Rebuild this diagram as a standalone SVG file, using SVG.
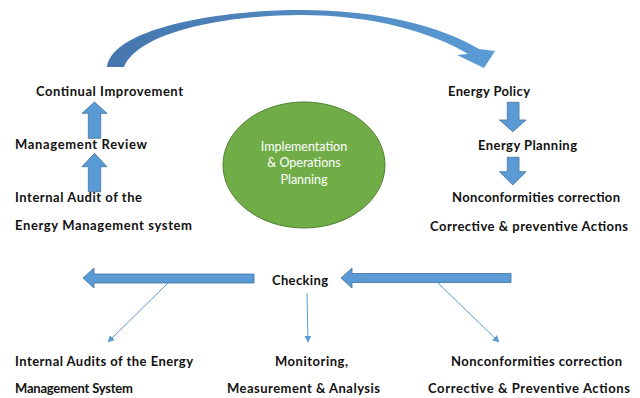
<svg xmlns="http://www.w3.org/2000/svg" width="640" height="398" viewBox="0 0 640 398">
  <style>
    .lbl { font-family: Lato, "Open Sans", "Liberation Sans", sans-serif; font-weight: bold; font-size: 13px; fill: #111; }
    .inner { font-family: Lato, "Open Sans", "Liberation Sans", sans-serif; font-size: 12.5px; fill: #ffffff; text-anchor: middle; }
    .block { fill: #5B9BD5; stroke: #41719C; stroke-width: 0.8; }
    .thin { stroke: #5B9BD5; stroke-width: 1; fill: none; marker-end: url(#tip); }
  </style>
  <defs>
    <linearGradient id="arcFill" x1="0" y1="0" x2="1" y2="0">
      <stop offset="0" stop-color="#4576AD"/>
      <stop offset="1" stop-color="#5B9BD5"/>
    </linearGradient>
    <marker id="tip" viewBox="0 0 10 10" refX="9" refY="5" markerWidth="7" markerHeight="7" orient="auto" markerUnits="userSpaceOnUse">
      <path d="M0,0 L10,5 L0,10 Z" fill="#5B9BD5"/>
    </marker>
  </defs>

  <rect width="640" height="398" fill="#ffffff"/>

  <!-- connectors -->
  <g id="connectors">
    <!-- sweeping return arrow over the top -->
    <path d="M107,67 C112,28 220,10 300,10 C380,10 443,27 479,49 L495,51 L484,68 L457,55 L468,54 C433,33 375,15 300,15 C235,15 140,29 124,67 Z" fill="url(#arcFill)"/>
    <!-- left column up arrows -->
    <path class="block" d="M94.5,102 L107,113.3 L100.7,113.3 L100.7,138.3 L88.3,138.3 L88.3,113.3 L82,113.3 Z"/>
    <path class="block" d="M94.5,153.3 L107,166.7 L100.7,166.7 L100.7,191.7 L88.3,191.7 L88.3,166.7 L82,166.7 Z"/>
    <!-- right column down arrows -->
    <path class="block" d="M507.3,102.3 L519,102.3 L519,120 L526,120 L512.8,131.7 L499.5,120 L507.3,120 Z"/>
    <path class="block" d="M507.3,157.3 L519,157.3 L519,171.7 L526,171.7 L512.8,185 L499.5,171.7 L507.3,171.7 Z"/>
    <!-- checking row arrows -->
    <path class="block" d="M83,278 L94,268 L94,274 L254,274 L254,283 L94,283 L94,288 Z"/>
    <path class="block" d="M341,278 L352,268 L352,273.5 L511,273.5 L511,282.5 L352,282.5 L352,288 Z"/>
    <!-- thin branch lines -->
    <line class="thin" x1="168" y1="283" x2="108" y2="342"/>
    <line class="thin" x1="307" y1="293" x2="308" y2="342"/>
    <line class="thin" x1="438" y1="283" x2="499" y2="342"/>
  </g>

  <g id="implementation">
    <ellipse cx="304" cy="165" rx="81" ry="63" fill="#70AD47" stroke="#507E32" stroke-width="1"/>
    <text class="inner" x="304" y="151">Implementation</text>
    <text class="inner" x="304" y="167">&amp; Operations</text>
    <text class="inner" x="304" y="184">Planning</text>
  </g>

  <g id="continual-improvement">
    <text class="lbl" x="36" y="96" textLength="147">Continual Improvement</text>
  </g>
  <g id="management-review">
    <text class="lbl" x="15" y="149" textLength="132">Management Review</text>
  </g>
  <g id="internal-audit">
    <text class="lbl" x="15" y="202" textLength="127">Internal Audit of the</text>
    <text class="lbl" x="15" y="230" textLength="177">Energy Management system</text>
  </g>

  <g id="energy-policy">
    <text class="lbl" x="448" y="96" textLength="82">Energy Policy</text>
  </g>
  <g id="energy-planning">
    <text class="lbl" x="478" y="150" textLength="99">Energy Planning</text>
  </g>
  <g id="nonconformities-top">
    <text class="lbl" x="452" y="202" textLength="168">Nonconformities correction</text>
    <text class="lbl" x="430" y="231" textLength="198">Corrective &amp; preventive Actions</text>
  </g>

  <g id="checking">
    <text class="lbl" x="272" y="285" textLength="56">Checking</text>
  </g>

  <g id="internal-audits-bottom">
    <text class="lbl" x="15" y="366" textLength="178">Internal Audits of the Energy</text>
    <text class="lbl" x="15" y="393" textLength="118">Management System</text>
  </g>
  <g id="monitoring">
    <text class="lbl" x="275" y="366" textLength="73">Monitoring,</text>
    <text class="lbl" x="227" y="393" textLength="153">Measurement &amp; Analysis</text>
  </g>
  <g id="nonconformities-bottom">
    <text class="lbl" x="451" y="366" textLength="171">Nonconformities correction</text>
    <text class="lbl" x="428" y="393" textLength="202">Corrective &amp; Preventive Actions</text>
  </g>
</svg>
